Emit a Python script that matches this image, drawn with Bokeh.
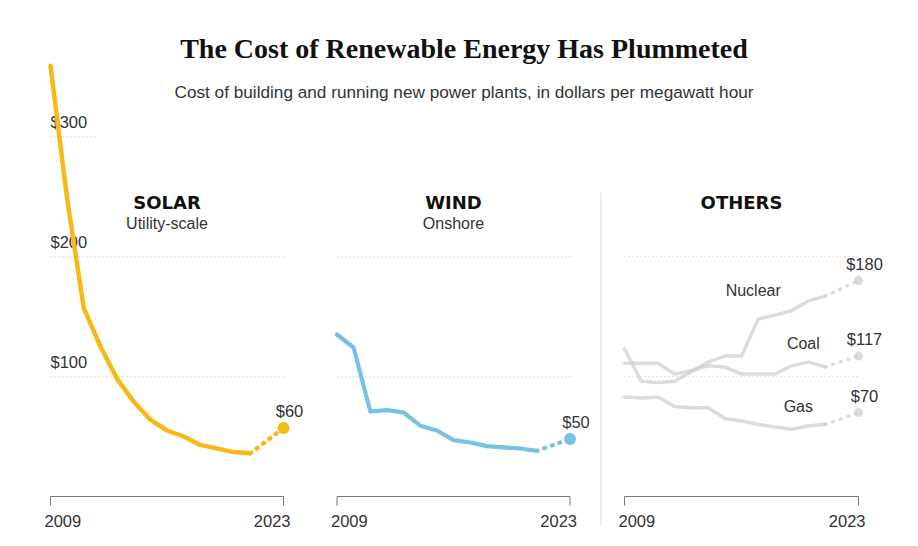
from bokeh.plotting import figure
from bokeh.models import Range1d
from bokeh.embed import file_html
from bokeh.resources import INLINE
from bokeh.core.properties import value

# ---------------- data ----------------
years = [2009, 2010, 2011, 2012, 2013, 2014, 2015, 2016, 2017, 2018, 2019, 2020, 2021]
proj_years = [2021, 2023]

solar = [359, 248, 157, 125, 98, 79, 64, 55, 50, 43, 40, 37, 36]
wind = [135, 124, 71, 72, 70, 59, 55, 47, 45, 42, 41, 40, 38]
nuclear = [123, 96, 95, 96, 104, 112, 117, 117, 148, 151, 155, 163, 167]
coal = [111, 111, 111, 102, 105, 109, 108, 102, 102, 102, 109, 112, 108]
gas = [83, 82, 83, 75, 74, 74, 65, 63, 60, 58, 56, 59, 60]

solar_2023 = 57
wind_2023 = 48
nuclear_2023 = 180
coal_2023 = 117
gas_2023 = 70

solar_label = "$60"
wind_label = "$50"
nuclear_label = "$180"
coal_label = "$117"
gas_label = "$70"

grid_values = [100, 200, 300]
tick_labels = ["$100", "$200", "$300"]
year_labels = ["2009", "2023"]

title = "The Cost of Renewable Energy Has Plummeted"
subtitle = "Cost of building and running new power plants, in dollars per megawatt hour"

# ---------------- layout ----------------
W, H = 900, 538
PX0, PY0 = 0, 0            # page offset of the canvas (as observed)
ZERO_Y = 496               # page y of $0
PX_PER_USD = 1.2
SANS = "Liberation Sans"

p = figure(width=W, height=H, output_backend="svg", toolbar_location=None,
           min_border=0, min_border_left=0, min_border_right=0,
           min_border_top=0, min_border_bottom=0, x_axis_type=None, y_axis_type=None)
p.outline_line_color = None
p.grid.visible = False
p.background_fill_color = "white"
p.border_fill_color = "white"

p.y_range = Range1d((ZERO_Y - (PY0 + H)) / PX_PER_USD, (ZERO_Y - PY0) / PX_PER_USD)
p.x_range = Range1d(PX0, PX0 + W)
p.extra_y_ranges = {"px": Range1d(PY0 + H, PY0)}

panels = {"solar": (50, 283), "wind": (336.5, 569.5), "others": (624, 858)}
extra_x = {}
for name, (L, R) in panels.items():
    s = (R - L) / (2023 - 2009)
    extra_x[name] = Range1d(2009 + (PX0 - L) / s, 2009 + (PX0 + W - L) / s)
p.extra_x_ranges = extra_x

# ---------------- titles ----------------
p.text(x=[463.5], y=[48], text=[title], text_font=value("Liberation Serif"),
       text_font_style="bold", text_font_size="28px", text_color="#111111",
       text_align="center", text_baseline="middle", y_range_name="px")
p.text(x=[463.5], y=[91], text=[subtitle], text_font=value(SANS),
       text_font_size="17.2px", text_color="#333333",
       text_align="center", text_baseline="middle", y_range_name="px")

# ---------------- gridlines ----------------
GRID = dict(line_color="#c4c4c4", line_width=1, line_dash="1 3")
p.segment(x0=[2009, 2009, 2009], x1=[2023, 2023, 2011.8], y0=grid_values, y1=grid_values,
          x_range_name="solar", **GRID)
p.segment(x0=[2009, 2009], x1=[2023, 2023], y0=grid_values[:2], y1=grid_values[:2],
          x_range_name="wind", **GRID)
p.segment(x0=[2009, 2009], x1=[2023, 2023], y0=grid_values[:2], y1=grid_values[:2],
          x_range_name="others", **GRID)

p.text(x=[2009] * 3, y=grid_values, text=tick_labels, x_range_name="solar",
       text_font=value(SANS), text_font_size="16.5px", text_color="#333333",
       text_align="left", text_baseline="middle", y_offset=-15)

# separator
p.segment(x0=[600.5], x1=[600.5], y0=[192], y1=[526], y_range_name="px",
          line_color="#dddddd", line_width=1)

# ---------------- axes (bottom) ----------------
for name in panels:
    p.segment(x0=[2009], x1=[2023], y0=[0], y1=[0], x_range_name=name,
              line_color="#777777", line_width=1)
    p.segment(x0=[2009, 2023], x1=[2009, 2023], y0=[0, 0], y1=[-7.5, -7.5], x_range_name=name,
              line_color="#777777", line_width=1)
    p.text(x=[2009], y=[520.5], text=[year_labels[0]], x_range_name=name, y_range_name="px",
           text_font=value(SANS), text_font_size="16.5px", text_color="#333333",
           text_align="left", text_baseline="middle", x_offset=-6)
    p.text(x=[2023], y=[520.5], text=[year_labels[1]], x_range_name=name, y_range_name="px",
           text_font=value(SANS), text_font_size="16.5px", text_color="#333333",
           text_align="right", text_baseline="middle", x_offset=7)

# ---------------- headers ----------------
HEAD = dict(text_font=value("DejaVu Sans"), text_font_style="bold", text_font_size="18px",
            text_color="#111111", text_align="center", text_baseline="middle",
            y_range_name="px")
SUB = dict(text_font=value(SANS), text_font_size="16px", text_color="#333333",
           text_align="center", text_baseline="middle", y_range_name="px")
p.text(x=[2016], y=[201.5], text=["SOLAR"], x_range_name="solar", **HEAD)
p.text(x=[2016], y=[223], text=["Utility-scale"], x_range_name="solar", **SUB)
p.text(x=[2016], y=[201.5], text=["WIND"], x_range_name="wind", **HEAD)
p.text(x=[2016], y=[223], text=["Onshore"], x_range_name="wind", **SUB)
p.text(x=[2016], y=[201.5], text=["OTHERS"], x_range_name="others", **HEAD)

# ---------------- series ----------------
def series(name, ys, last, label, color, width, size, alpha=1.0):
    p.line(years, ys, x_range_name=name, line_color=color, line_width=width,
           line_join="round", line_cap="round", line_alpha=alpha)
    p.line(proj_years, [ys[-1], last], x_range_name=name, line_color=color,
           line_width=width, line_dash="1 7", line_cap="round", line_alpha=alpha)
    p.scatter([proj_years[1]], [last], x_range_name=name, size=size, marker="circle",
              fill_color=color, line_color=None, fill_alpha=alpha)
    p.text(x=[proj_years[1]], y=[last], text=[label], x_range_name=name,
           text_font=value(SANS), text_font_size="16.5px", text_color="#333333",
           text_align="center", text_baseline="middle", x_offset=6, y_offset=-17)

GRAY = "#cdcdcd"
series("others", gas, gas_2023, gas_label, GRAY, 3.5, 9, 0.7)
series("others", coal, coal_2023, coal_label, GRAY, 3.5, 9, 0.7)
series("others", nuclear, nuclear_2023, nuclear_label, GRAY, 3.5, 9, 0.7)
series("wind", wind, wind_2023, wind_label, "#76c2e2", 4.2, 12)
series("solar", solar, solar_2023, solar_label, "#f5ba16", 4.5, 12)

NAME = dict(text_font=value(SANS), text_font_size="16px", text_color="#333333",
            text_align="center", text_baseline="middle", x_range_name="others")
p.text(x=[2016.7], y=[171.5], text=["Nuclear"], **NAME)
p.text(x=[2019.7], y=[127.5], text=["Coal"], **NAME)
p.text(x=[2019.4], y=[75], text=["Gas"], **NAME)

open("out.html", "w").write(file_html(p, INLINE))
